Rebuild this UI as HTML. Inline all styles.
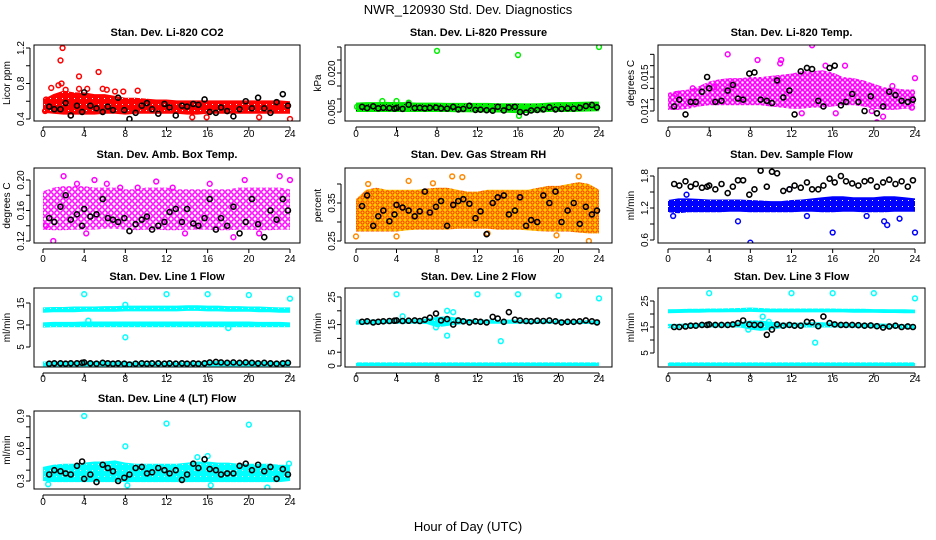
<!DOCTYPE html>
<html><head><meta charset="utf-8"><title>NWR_120930 Std. Dev. Diagnostics</title>
<style>
html,body{margin:0;padding:0;background:#fff;}
svg{display:block;font-family:"Liberation Sans",Arial,sans-serif;}
</style></head>
<body>
<svg id="chart" width="936" height="540" viewBox="0 0 936 540" xmlns="http://www.w3.org/2000/svg">
<defs>
<pattern id="pd-red" width="6" height="6" patternUnits="userSpaceOnUse"><rect width="6" height="6" fill="#ff0000"/><rect x="2" y="2" width="1" height="1" fill="#fff"/></pattern>
<pattern id="pd-green" width="6" height="6" patternUnits="userSpaceOnUse"><rect width="6" height="6" fill="#00ee00"/><rect x="2" y="2" width="1" height="1" fill="#000"/></pattern>
<pattern id="pd-blue" width="6" height="6" patternUnits="userSpaceOnUse"><rect width="6" height="6" fill="#0000ff"/><rect x="2" y="2" width="1" height="1" fill="#fff"/></pattern>
<pattern id="pd-cyan" width="6" height="6" patternUnits="userSpaceOnUse"><rect width="6" height="6" fill="#00ffff"/><rect x="2" y="2" width="1" height="1" fill="#fff"/></pattern>
<pattern id="ps-magenta" width="5" height="5" patternUnits="userSpaceOnUse"><circle cx="2.5" cy="2.5" r="2" fill="none" stroke="#ff00ff" stroke-width="1.6"/></pattern>
<pattern id="ps-magenta2" width="6" height="6" patternUnits="userSpaceOnUse"><circle cx="3" cy="3" r="2.2" fill="none" stroke="#ff00ff" stroke-width="1.5"/></pattern>
<pattern id="ps-orange" width="5" height="5" patternUnits="userSpaceOnUse"><rect width="5" height="5" fill="#ffcc00"/><circle cx="2.5" cy="2.5" r="1.6" fill="none" stroke="#ff3300" stroke-width="1"/></pattern>
</defs>
<text x="468" y="14" text-anchor="middle" font-size="13">NWR_120930  Std. Dev. Diagnostics</text>
<text x="468" y="531" text-anchor="middle" font-size="13">Hour of Day (UTC)</text>
<g id="panels"></g>
</svg>
<script>
// ---- shared x data ----
const bandHours = [0,1,2,3,4,5,6,7,8,9,10,11,12,13,14,15,16,17,18,19,20,21,22,23,24];
const blackHours = [0.6,1.1,1.7,2.2,2.7,3.3,3.8,4.0,4.6,5.2,5.8,6.3,6.8,7.3,7.9,8.4,9.0,9.6,10.1,10.6,11.2,11.8,12.3,12.9,13.5,14.0,14.6,15.1,15.7,16.2,16.8,17.3,17.9,18.5,19.1,19.7,20.3,20.9,21.5,22.1,22.7,23.3,23.8];
const xTicks = [0,4,8,12,16,20,24];

// ---- Panel 1: Li-820 CO2 ----
const co2Lo = [0.47,0.46,0.45,0.45,0.45,0.45,0.46,0.46,0.45,0.46,0.46,0.46,0.46,0.46,0.45,0.45,0.46,0.46,0.46,0.46,0.46,0.46,0.46,0.46,0.46];
const co2Hi = [0.62,0.68,0.72,0.70,0.70,0.68,0.68,0.66,0.64,0.64,0.63,0.62,0.62,0.61,0.61,0.61,0.61,0.61,0.61,0.61,0.61,0.61,0.61,0.61,0.60];
const co2OutX = [0.3,0.8,1.5,1.7,1.9,1.8,2.2,3.5,3.5,4.3,5.4,5.8,6.2,7.0,7.8,9.2,14.5,15.9,21.0,24.0,2.7,0.2];
const co2OutY = [0.62,0.75,0.78,1.06,1.20,0.80,0.73,0.88,0.74,0.74,0.93,0.74,0.73,0.71,0.71,0.72,0.42,0.42,0.42,0.40,0.44,0.49];
const co2Black = [0.54,0.51,0.51,0.58,0.44,0.55,0.48,0.70,0.55,0.52,0.48,0.54,0.50,0.64,0.50,0.40,0.47,0.55,0.58,0.51,0.46,0.57,0.53,0.44,0.55,0.54,0.57,0.56,0.62,0.48,0.47,0.53,0.49,0.43,0.51,0.60,0.52,0.64,0.52,0.47,0.59,0.68,0.55];

// ---- Panel 2: Li-820 Pressure ----
const presLo = [0.0050,0.0050,0.0050,0.0050,0.0050,0.0050,0.0050,0.0050,0.0050,0.0050,0.0049,0.0049,0.0048,0.0048,0.0048,0.0047,0.0045,0.0046,0.0048,0.0050,0.0050,0.0050,0.0051,0.0052,0.0053];
const presHi = [0.0086,0.0088,0.0088,0.0089,0.0088,0.0088,0.0086,0.0086,0.0086,0.0085,0.0085,0.0085,0.0085,0.0085,0.0084,0.0084,0.0084,0.0083,0.0084,0.0086,0.0088,0.0088,0.0089,0.0090,0.0090];
const presOutX = [8.0,16.0,24.0,16.1,5.2,2.6,4.0,0.1];
const presOutY = [0.0285,0.0269,0.0300,0.0035,0.0086,0.0092,0.0092,0.0070];
const presBlack = [0.0070,0.0065,0.0072,0.0064,0.0066,0.0065,0.0063,0.0066,0.0062,0.0078,0.0065,0.0066,0.0064,0.0066,0.0067,0.0064,0.0063,0.0070,0.0060,0.0062,0.0074,0.0058,0.0059,0.0057,0.0055,0.0070,0.0056,0.0068,0.0070,0.0050,0.0048,0.0056,0.0058,0.0060,0.0068,0.0060,0.0062,0.0064,0.0063,0.0066,0.0073,0.0077,0.0068];

// ---- Panel 3: Li-820 Temp ----
const tempLo = [0.0121,0.0121,0.0122,0.0124,0.0125,0.0125,0.0125,0.0125,0.0125,0.0125,0.0124,0.0123,0.0122,0.0122,0.0123,0.0123,0.0124,0.0125,0.0125,0.0124,0.0122,0.0121,0.0121,0.0122,0.0122];
const tempHi = [0.0136,0.0138,0.0139,0.0142,0.0146,0.0148,0.0149,0.0149,0.0150,0.0150,0.0151,0.0152,0.0153,0.0155,0.0155,0.0156,0.0154,0.0150,0.0149,0.0147,0.0144,0.0141,0.0140,0.0139,0.0139];
const tempOutX = [5.8,8.7,2.4,4.5,10.9,14.0,15.3,17.2,19.8,20.3,20.9,24.0,0.8,13.0,11.0,16.3,21.8,23.7];
const tempOutY = [0.0170,0.0165,0.0140,0.0141,0.0162,0.0178,0.0160,0.0160,0.0120,0.0110,0.0115,0.0149,0.0135,0.0118,0.0165,0.0118,0.0142,0.0123];
const tempBlack = [0.0124,0.0130,0.0117,0.0128,0.0128,0.0137,0.0150,0.0140,0.0128,0.0129,0.0138,0.0143,0.0131,0.0130,0.0153,0.0154,0.0130,0.0129,0.0127,0.0147,0.0132,0.0138,0.0117,0.0155,0.0158,0.0157,0.0129,0.0124,0.0158,0.0160,0.0125,0.0128,0.0135,0.0128,0.0120,0.0133,0.0118,0.0124,0.0137,0.0134,0.0129,0.0128,0.0130];

// ---- Panel 4: Amb. Box Temp ----
const boxLo = [0.135,0.134,0.134,0.135,0.135,0.135,0.136,0.136,0.135,0.134,0.135,0.135,0.134,0.134,0.135,0.135,0.135,0.134,0.134,0.135,0.135,0.134,0.134,0.135,0.135];
const boxHi = [0.185,0.190,0.192,0.192,0.192,0.190,0.190,0.190,0.188,0.188,0.190,0.190,0.190,0.188,0.188,0.188,0.188,0.188,0.188,0.190,0.190,0.190,0.190,0.190,0.188];
const boxOutX = [1.0,4.2,13.8,23.0,3.3,9.2,12.6,5.0,6.2,7.5,11.0,16.2,18.5,21.0,24.0,0.3,2.0,19.6];
const boxOutY = [0.120,0.130,0.130,0.205,0.195,0.190,0.190,0.200,0.195,0.190,0.198,0.195,0.125,0.130,0.200,0.140,0.205,0.200];
const boxBlack = [0.150,0.145,0.165,0.180,0.148,0.155,0.140,0.162,0.152,0.155,0.175,0.150,0.148,0.145,0.150,0.133,0.142,0.148,0.152,0.135,0.140,0.145,0.158,0.162,0.145,0.162,0.143,0.140,0.150,0.175,0.135,0.150,0.140,0.165,0.130,0.145,0.175,0.142,0.125,0.160,0.148,0.175,0.160];

// ---- Panel 5: Gas Stream RH ----
const rhLo = [0.275,0.275,0.275,0.275,0.275,0.278,0.280,0.280,0.280,0.280,0.282,0.282,0.282,0.282,0.280,0.280,0.280,0.278,0.276,0.275,0.275,0.275,0.272,0.270,0.270];
const rhHi = [0.360,0.385,0.390,0.385,0.385,0.385,0.385,0.388,0.390,0.390,0.385,0.380,0.380,0.385,0.385,0.385,0.385,0.385,0.390,0.395,0.395,0.400,0.405,0.400,0.385];
const rhOutX = [9.5,10.5,22.0,23.0,0.0,1.2,5.2,7.6,4.0,13.0,19.8];
const rhOutY = [0.420,0.418,0.420,0.250,0.262,0.400,0.408,0.402,0.262,0.270,0.265];
const rhBlack = [0.342,0.370,0.290,0.315,0.330,0.302,0.320,0.345,0.338,0.330,0.315,0.328,0.380,0.325,0.340,0.355,0.290,0.345,0.355,0.360,0.348,0.310,0.328,0.268,0.350,0.365,0.370,0.320,0.330,0.365,0.290,0.305,0.300,0.370,0.350,0.380,0.300,0.330,0.350,0.295,0.340,0.320,0.330];

// ---- Panel 6: Sample Flow ----
const sfLo = [1.12,1.10,1.12,1.12,1.12,1.12,1.13,1.13,1.12,1.12,1.12,1.12,1.12,1.13,1.13,1.12,1.12,1.13,1.13,1.12,1.12,1.12,1.13,1.13,1.13];
const sfHi = [1.35,1.38,1.38,1.37,1.36,1.36,1.36,1.36,1.35,1.34,1.33,1.33,1.35,1.36,1.38,1.40,1.42,1.42,1.40,1.40,1.40,1.42,1.42,1.40,1.38];
const sfOutX = [8.0,16.0,24.0,6.8,21.0,21.3,1.8,11.8,0.5,13.5,19.3,22.5];
const sfOutY = [0.55,0.74,0.74,0.95,0.95,0.88,1.45,1.55,1.05,1.05,1.05,1.00];
const sfBlack = [1.65,1.62,1.70,1.60,1.65,1.58,1.60,1.62,1.55,1.65,1.48,1.60,1.72,1.72,1.45,1.55,1.90,1.60,1.88,1.85,1.52,1.55,1.62,1.58,1.68,1.55,1.55,1.62,1.75,1.68,1.80,1.70,1.66,1.62,1.70,1.72,1.60,1.68,1.73,1.65,1.70,1.60,1.72];

// ---- Panel 7: Line 1 Flow ----
const l1aLo = [12.8,12.9,12.9,12.9,13.0,13.0,13.0,13.0,13.1,13.1,13.1,13.1,13.1,13.1,13.2,13.2,13.1,13.1,13.0,13.0,13.0,12.9,12.9,12.8,12.8];
const l1aHi = [14.0,14.1,14.1,14.2,14.2,14.2,14.3,14.3,14.4,14.4,14.4,14.4,14.4,14.4,14.5,14.5,14.4,14.4,14.3,14.3,14.2,14.2,14.1,14.0,14.0];
const l1bLo = [9.4,9.5,9.5,9.5,9.5,9.5,9.5,9.5,9.5,9.5,9.5,9.5,9.5,9.5,9.5,9.5,9.5,9.5,9.5,9.5,9.5,9.5,9.5,9.5,9.5];
const l1bHi = [10.6,10.7,10.7,10.7,10.8,10.8,10.8,10.8,10.8,10.8,10.8,10.8,10.8,10.8,10.8,10.8,10.8,10.8,10.8,10.8,10.8,10.7,10.7,10.7,10.6];
const l1cLo = [0.6,0.6,0.6,0.6,0.6,0.6,0.6,0.6,0.6,0.6,0.6,0.6,0.6,0.6,0.6,0.6,0.6,0.6,0.6,0.6,0.6,0.6,0.6,0.6,0.6];
const l1cHi = [1.7,1.7,1.7,1.7,1.8,1.8,1.8,1.8,1.7,1.7,1.7,1.7,1.7,1.7,1.7,1.7,1.8,1.8,1.8,1.8,1.8,1.7,1.7,1.7,1.7];
const l1OutX = [4.0,12.0,16.0,20.0,24.0,8.0,4.4,18.0,8.0];
const l1OutY = [17.0,17.0,17.0,16.8,16.0,7.2,11.0,9.3,14.6];
const l1Black = [1.2,1.3,1.3,1.2,1.3,1.3,1.4,1.5,1.3,1.2,1.4,1.3,1.2,1.3,1.2,1.0,1.2,1.3,1.2,1.3,1.3,1.2,1.3,1.2,1.3,1.2,1.3,1.2,1.3,1.5,1.6,1.5,1.4,1.5,1.4,1.5,1.4,1.3,1.4,1.3,1.2,1.3,1.4];

// ---- Panel 8: Line 2 Flow ----
const l2aLo = [15.0,15.0,15.2,15.2,15.3,15.3,15.3,15.2,14.0,14.5,15.0,15.3,15.3,15.3,15.3,15.3,15.3,15.3,15.3,15.3,15.2,15.2,15.2,15.2,15.0];
const l2aHi = [16.8,16.8,16.8,16.8,17.2,17.0,17.0,17.2,17.8,18.0,17.5,17.0,16.8,16.8,16.8,16.8,16.8,16.8,16.8,16.8,16.8,16.6,16.6,16.6,16.5];
const l2bLo = [0.0,0.0,0.0,0.0,0.0,0.0,0.0,0.0,0.0,0.0,0.0,0.0,0.0,0.0,0.0,0.0,0.0,0.0,0.0,0.0,0.0,0.0,0.0,0.0,0.0];
const l2bHi = [1.3,1.3,1.3,1.3,1.3,1.3,1.3,1.3,1.3,1.3,1.3,1.3,1.3,1.3,1.3,1.3,1.3,1.3,1.3,1.3,1.3,1.3,1.3,1.3,1.3];
const l2OutX = [4.0,12.0,16.0,20.0,24.0,9.0,14.3,9.0,9.6,7.9,4.6];
const l2OutY = [26.0,26.0,26.0,25.5,24.5,11.0,9.0,20.0,19.5,14.0,18.0];
const l2Black = [16.0,16.2,15.8,16.0,16.2,16.3,16.4,16.5,16.3,16.4,16.5,16.3,16.8,17.5,19.0,16.5,17.0,15.0,16.5,16.2,15.8,16.2,16.0,15.8,17.8,17.2,16.0,19.5,16.8,16.5,16.3,16.2,16.4,16.3,16.5,16.2,15.8,16.0,16.0,16.2,16.5,16.2,15.8];

// ---- Panel 9: Line 3 Flow ----
const l3aLo = [20.3,20.4,20.5,20.5,20.6,20.6,20.7,20.7,20.8,20.7,20.6,20.6,20.6,20.6,20.6,20.6,20.6,20.6,20.5,20.5,20.5,20.4,20.4,20.3,20.3];
const l3aHi = [21.8,21.9,22.0,22.0,22.1,22.1,22.2,22.3,22.5,22.3,22.1,22.1,22.1,22.1,22.1,22.1,22.1,22.0,22.0,22.0,21.9,21.9,21.8,21.8,21.7];
const l3bLo = [14.5,14.5,14.7,14.8,14.8,14.8,14.8,14.8,14.0,13.5,14.0,14.5,14.8,14.8,14.8,14.8,14.8,14.8,14.7,14.7,14.5,14.5,14.5,14.3,14.3];
const l3bHi = [16.2,16.2,16.4,16.5,16.6,16.6,16.6,16.8,17.5,17.5,17.0,16.6,16.6,16.6,16.8,16.8,16.6,16.6,16.5,16.5,16.4,16.3,16.2,16.0,16.0];
const l3cLo = [0.0,0.0,0.0,0.0,0.0,0.0,0.0,0.0,0.0,0.0,0.0,0.0,0.0,0.0,0.0,0.0,0.0,0.0,0.0,0.0,0.0,0.0,0.0,0.0,0.0];
const l3cHi = [1.4,1.4,1.4,1.4,1.4,1.4,1.4,1.4,1.4,1.4,1.4,1.4,1.4,1.4,1.4,1.4,1.4,1.4,1.4,1.4,1.4,1.4,1.4,1.4,1.4];
const l3OutX = [4.0,12.0,16.0,20.0,24.0,14.3,9.2,9.8,7.8];
const l3OutY = [28.0,28.0,28.0,28.0,26.0,9.0,19.0,17.0,14.0];
const l3Black = [15.0,15.0,15.2,15.5,15.5,15.8,15.8,16.0,15.8,15.8,15.8,16.0,16.5,17.5,16.0,15.8,15.8,12.0,14.0,16.0,15.5,15.8,15.5,15.5,17.0,16.8,15.3,19.0,16.5,16.0,15.8,15.8,15.8,15.7,15.5,15.6,15.3,14.8,15.2,15.5,15.0,15.2,15.0];

// ---- Panel 10: Line 4 (LT) Flow ----
const l4Lo = [0.30,0.29,0.29,0.29,0.29,0.29,0.29,0.29,0.29,0.29,0.29,0.29,0.29,0.29,0.29,0.29,0.29,0.29,0.29,0.29,0.29,0.29,0.29,0.29,0.30];
const l4Hi = [0.43,0.45,0.46,0.46,0.47,0.48,0.48,0.49,0.47,0.46,0.46,0.46,0.46,0.46,0.47,0.48,0.48,0.47,0.47,0.46,0.46,0.46,0.46,0.45,0.45];
const l4OutX = [4.0,12.0,20.0,8.0,16.0,15.0,21.8,0.5,8.2,16.3,23.9];
const l4OutY = [0.90,0.83,0.82,0.62,0.53,0.52,0.24,0.27,0.26,0.26,0.46];
const l4Black = [0.36,0.40,0.39,0.37,0.36,0.44,0.48,0.32,0.36,0.29,0.45,0.42,0.39,0.30,0.33,0.36,0.42,0.43,0.37,0.38,0.42,0.40,0.37,0.40,0.31,0.36,0.46,0.42,0.50,0.41,0.40,0.36,0.37,0.37,0.44,0.46,0.40,0.45,0.39,0.43,0.32,0.41,0.36];

const NS = 'http://www.w3.org/2000/svg';
const root = document.getElementById('panels');
function mk(tag, attrs, parent){ const e=document.createElementNS(NS,tag); for(const k in attrs) e.setAttribute(k,attrs[k]); (parent||root).appendChild(e); return e; }

const cols = [{l:34,r:300,x0:43,x24:290},{l:345,r:612,x0:356,x24:599},{l:658,r:925,x0:668,x24:915}];
const rows = [{t:45,b:121,lab:137,title:36},{t:168,b:243,lab:262,title:158},{t:288,b:367,lab:382,title:280},{t:411,b:489,lab:505,title:402}];

const panels = [
 {name:'co2',title:'Stan. Dev. Li-820 CO2',ylab:'Licor ppm',c:0,r:0,ref:[0.4,119,1.2,48],ticks:[0.4,0.6,0.8,1.0,1.2],labels:['0.4','','0.8','','1.2'],bands:[[co2Lo,co2Hi,'pd-red']],ox:co2OutX,oy:co2OutY,col:'#ff0000',blk:co2Black},
 {name:'pressure',title:'Stan. Dev. Li-820 Pressure',ylab:'kPa',c:1,r:0,ref:[0.005,112,0.020,73],ticks:[0.005,0.010,0.015,0.020,0.025,0.030],labels:['0.005','','','0.020','',''],bands:[[presLo,presHi,'pd-green']],ox:presOutX,oy:presOutY,col:'#00ee00',blk:presBlack},
 {name:'temp',title:'Stan. Dev. Li-820 Temp.',ylab:'degrees C',c:2,r:0,ref:[0.012,111,0.015,77],ticks:[0.012,0.013,0.014,0.015,0.016,0.017],labels:['0.012','','','0.015','',''],bands:[[tempLo,tempHi,'ps-magenta']],ox:tempOutX,oy:tempOutY,col:'#ff00ff',blk:tempBlack},
 {name:'box-temp',title:'Stan. Dev. Amb. Box Temp.',ylab:'degrees C',c:0,r:1,ref:[0.12,241,0.20,180],ticks:[0.12,0.14,0.16,0.18,0.20],labels:['0.12','','0.16','','0.20'],bands:[[boxLo,boxHi,'ps-magenta2']],ox:boxOutX,oy:boxOutY,col:'#ff00ff',blk:boxBlack},
 {name:'rh',title:'Stan. Dev. Gas Stream RH',ylab:'percent',c:1,r:1,ref:[0.25,241,0.35,203],ticks:[0.25,0.30,0.35,0.40],labels:['0.25','','0.35',''],bands:[[rhLo,rhHi,'ps-orange']],ox:rhOutX,oy:rhOutY,col:'#ff8800',blk:rhBlack},
 {name:'sample-flow',title:'Stan. Dev. Sample Flow',ylab:'ml/min',c:2,r:1,ref:[0.6,240,1.8,176],ticks:[0.6,0.9,1.2,1.5,1.8],labels:['0.6','','1.2','','1.8'],bands:[[sfLo,sfHi,'pd-blue']],ox:sfOutX,oy:sfOutY,col:'#0000ff',blk:sfBlack},
 {name:'line1-flow',title:'Stan. Dev. Line 1 Flow',ylab:'ml/min',c:0,r:2,ref:[5,347,15,303],ticks:[5,10,15],labels:['5','10','15'],bands:[[l1aLo,l1aHi,'pd-cyan'],[l1bLo,l1bHi,'pd-cyan'],[l1cLo,l1cHi,'pd-cyan']],ox:l1OutX,oy:l1OutY,col:'#00ffff',blk:l1Black},
 {name:'line2-flow',title:'Stan. Dev. Line 2 Flow',ylab:'ml/min',c:1,r:2,ref:[0,366,25,297],ticks:[0,5,10,15,20,25],labels:['0','5','','15','','25'],bands:[[l2aLo,l2aHi,'pd-cyan'],[l2bLo,l2bHi,'pd-cyan']],ox:l2OutX,oy:l2OutY,col:'#00ffff',blk:l2Black},
 {name:'line3-flow',title:'Stan. Dev. Line 3 Flow',ylab:'ml/min',c:2,r:2,ref:[5,353,25,301],ticks:[5,10,15,20,25],labels:['5','','15','','25'],bands:[[l3aLo,l3aHi,'pd-cyan'],[l3bLo,l3bHi,'pd-cyan'],[l3cLo,l3cHi,'pd-cyan']],ox:l3OutX,oy:l3OutY,col:'#00ffff',blk:l3Black},
 {name:'line4-flow',title:'Stan. Dev. Line 4 (LT) Flow',ylab:'ml/min',c:0,r:3,ref:[0.3,481,0.9,416],ticks:[0.3,0.4,0.5,0.6,0.7,0.8,0.9],labels:['0.3','','','0.6','','','0.9'],bands:[[l4Lo,l4Hi,'pd-cyan']],ox:l4OutX,oy:l4OutY,col:'#00ffff',blk:l4Black}
];

panels.forEach(function(p, idx){
  const C = cols[p.c], R = rows[p.r];
  const xs = h => C.x0 + (C.x24 - C.x0) * h / 24;
  const ys = v => p.ref[1] + (v - p.ref[0]) * (p.ref[3] - p.ref[1]) / (p.ref[2] - p.ref[0]);
  const g = mk('g', {});
  
  
  const cid = 'clip' + idx;
  const cp = mk('clipPath', {id: cid}, g);
  mk('rect', {x: C.l, y: R.t, width: C.r - C.l, height: R.b - R.t}, cp);
  const t = mk('text', {x: (C.l + C.r) / 2, y: R.title, 'text-anchor': 'middle', 'font-size': '11', 'font-weight': 'bold'}, g);
  t.textContent = p.title;
  
  
  const yl = mk('text', {x: 0, y: 0, transform: 'translate(' + (C.l - 24) + ',' + ((R.t + R.b) / 2) + ') rotate(-90)', 'text-anchor': 'middle', 'font-size': '10'}, g);
  yl.textContent = p.ylab;
  
  
  const marks = mk('g', {'clip-path': 'url(#' + cid + ')'}, g);
  p.bands.forEach(function(b){
    let d = '';
    bandHours.forEach(function(h, i){ d += (i ? 'L' : 'M') + xs(h).toFixed(1) + ',' + ys(b[1][i]).toFixed(1); });
    for (let i = bandHours.length - 1; i >= 0; i--) d += 'L' + xs(bandHours[i]).toFixed(1) + ',' + ys(b[0][i]).toFixed(1);
    const pa = mk('path', {d: d + 'Z', fill: 'url(#' + b[2] + ')'}, marks);
    
    
  });
  p.ox.forEach(function(h, i){
    const c = mk('circle', {cx: xs(h), cy: ys(p.oy[i]), r: 2.4, fill: 'none', stroke: p.col, 'stroke-width': 1.5}, marks);
    
    
  });
  p.blk.forEach(function(v, i){
    const c = mk('circle', {cx: xs(blackHours[i]), cy: ys(v), r: 2.5, fill: 'none', stroke: '#000', 'stroke-width': 1.6}, marks);
    
    
  });
  const box = mk('rect', {x: C.l, y: R.t, width: C.r - C.l, height: R.b - R.t, fill: 'none', stroke: '#000', 'stroke-width': 1}, g);
  
  
  const xa = mk('g', {}, g);
  
  
  const xb = R.b + 6;
  mk('line', {x1: xs(0), x2: xs(24), y1: xb, y2: xb, stroke: '#000'}, xa);
  xTicks.forEach(function(h){
    mk('line', {x1: xs(h), x2: xs(h), y1: xb, y2: xb + 4, stroke: '#000'}, xa);
    const tl = mk('text', {x: xs(h), y: R.lab, 'text-anchor': 'middle', 'font-size': '10'}, xa);
    tl.textContent = h;
  });
  const ya = mk('g', {}, g);
  
  
  const yx = C.l - 4;
  mk('line', {x1: yx, x2: yx, y1: ys(p.ticks[0]), y2: ys(p.ticks[p.ticks.length - 1]), stroke: '#000'}, ya);
  p.ticks.forEach(function(v, i){
    const yy = ys(v);
    mk('line', {x1: yx - 4, x2: yx, y1: yy, y2: yy, stroke: '#000'}, ya);
    if (p.labels[i]) {
      const tl = mk('text', {x: 0, y: 0, transform: 'translate(' + (yx - 6) + ',' + yy + ') rotate(-90)', 'text-anchor': 'middle', 'font-size': '10'}, ya);
      tl.textContent = p.labels[i];
    }
  });
});
</script>
</body></html>
